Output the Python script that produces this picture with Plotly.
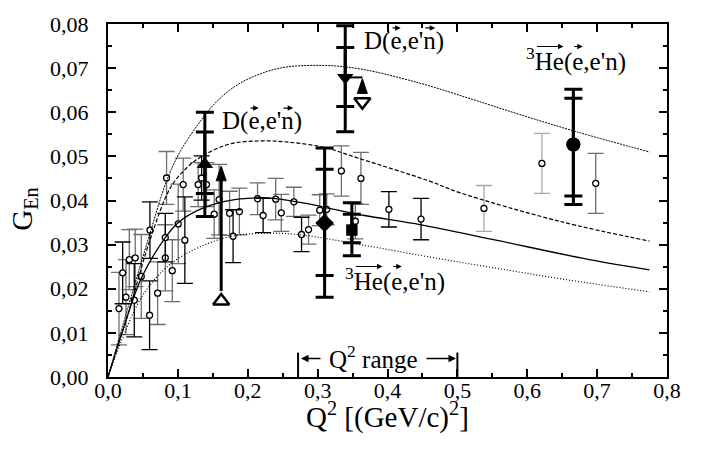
import plotly.graph_objects as go

# ---------------- data ----------------
# model curves
q_top = [0, 0.03, 0.06, 0.084, 0.103, 0.13, 0.15, 0.174, 0.2, 0.246, 0.31, 0.365, 0.446, 0.52, 0.589, 0.67, 0.775]
g_top = [0, 0.0165, 0.0325, 0.0445, 0.051, 0.0575, 0.0615, 0.0650, 0.0675, 0.0700, 0.0706, 0.0697, 0.0666, 0.0630, 0.0595, 0.0556, 0.0510]

q_dash = [0, 0.03, 0.06, 0.089, 0.11, 0.131, 0.174, 0.22, 0.26, 0.31, 0.36, 0.46, 0.503, 0.646, 0.775]
g_dash = [0, 0.0150, 0.0310, 0.0428, 0.0470, 0.0497, 0.0528, 0.0535, 0.0532, 0.0520, 0.0495, 0.0444, 0.0418, 0.0353, 0.0308]

q_solid = [0, 0.02, 0.048, 0.082, 0.1, 0.129, 0.167, 0.2, 0.229, 0.277, 0.324, 0.367, 0.448, 0.55, 0.689, 0.775]
g_solid = [0, 0.0100, 0.0225, 0.0316, 0.0349, 0.0378, 0.0398, 0.0405, 0.0406, 0.0395, 0.0380, 0.0366, 0.0345, 0.0312, 0.0266, 0.0243]

q_dot = [0, 0.02, 0.05, 0.0886, 0.129, 0.18, 0.23, 0.277, 0.365, 0.46, 0.55, 0.65, 0.775]
g_dot = [0, 0.0085, 0.0186, 0.0255, 0.0293, 0.0320, 0.0326, 0.0322, 0.0299, 0.0272, 0.0248, 0.0222, 0.0193]

# world data (small open circles)
sm_q = [0.0157, 0.021, 0.0257, 0.0305, 0.0376, 0.039, 0.0476, 0.0595, 0.060, 0.071,
        0.082, 0.082, 0.0838, 0.092, 0.1005, 0.1076, 0.110, 0.129, 0.134, 0.141,
        0.152, 0.159, 0.174, 0.179, 0.188, 0.214, 0.222, 0.240, 0.248, 0.266,
        0.277, 0.287, 0.303, 0.313, 0.334, 0.354, 0.362, 0.402, 0.448, 0.538,
        0.621, 0.698]
sm_g = [0.0155, 0.0236, 0.0181, 0.0266, 0.0174, 0.027, 0.0228, 0.014, 0.0333, 0.019,
        0.027, 0.0316, 0.0451, 0.0241, 0.0347, 0.0436, 0.031, 0.0436, 0.0451, 0.0436,
        0.0369, 0.0402, 0.0371, 0.0319, 0.0375, 0.0404, 0.0366, 0.0403, 0.0372, 0.0397,
        0.0323, 0.0334, 0.0378, 0.038, 0.0467, 0.0353, 0.045, 0.038, 0.0358, 0.0382,
        0.0484, 0.0439]
sm_err = [0.0082, 0.007, 0.0085, 0.0068, 0.0083, 0.0065, 0.0095, 0.0078, 0.0064, 0.0071,
          0.0075, 0.0055, 0.006, 0.007, 0.009, 0.006, 0.0098, 0.005, 0.005, 0.005,
          0.0055, 0.008, 0.005, 0.006, 0.0053, 0.0036, 0.0039, 0.0047, 0.0042, 0.0033,
          0.0039, 0.0033, 0.0035, 0.0035, 0.0057, 0.004, 0.0059, 0.004, 0.0047, 0.0052,
          0.0068, 0.0068]
sm_tone = ['gray', 'black', 'gray', 'gray', 'black', 'gray', 'gray', 'black', 'black', 'gray',
           'gray', 'black', 'gray', 'gray', 'gray', 'gray', 'black', 'gray', 'black', 'gray',
           'gray', 'gray', 'gray', 'black', 'gray', 'gray', 'black', 'gray', 'gray', 'gray',
           'black', 'gray', 'gray', 'gray', 'gray', 'gray', 'gray', 'black', 'black', 'light',
           'light', 'gray']

# new measurements (filled symbols, thick bars)
big_q = [0.1386, 0.3395, 0.310, 0.349, 0.666]
big_g = [0.0482, 0.0679, 0.0349, 0.0333, 0.0527]
big_out_hi = [0.0118, 0.0117, 0.0170, 0.0062, 0.0125]
big_out_lo = [0.0118, 0.0123, 0.0168, 0.0058, 0.0136]
big_in_hi = [0.0073, 0.0068, 0.0122, 0.0036, 0.0105]
big_in_lo = [0.0066, 0.0066, 0.0119, 0.0029, 0.0117]
big_symbol = ['triangle-up', 'triangle-down', 'diamond', 'square', 'circle']

# uncorrected values (open triangles) and shift arrows
open_q = [0.162, 0.364]
open_g = [0.0172, 0.0624]
open_symbol = ['triangle-up-open', 'triangle-down-open']
shift_tail_g = [0.0195, 0.0643]
shift_head_g = [0.0478, 0.0676]

q2_range = [0.272, 0.5]

# ---------------- geometry helpers ----------------
W, H = 707, 452
ML, MR, MT, MB = 108, 40, 16, 75
XR = [0, 0.8]
YR = [0, 0.08]
PW = W - ML - MR
PH = H - MT - MB
sx = (XR[1] - XR[0]) / PW
sy = (YR[1] - YR[0]) / PH


def dx(px):
    return XR[0] + (px - ML) * sx


def dy(py):
    return YR[0] + (H - MB - py) * sy


FONT = 'Liberation Serif, Times New Roman, Times, serif'
tone_col = {'black': '#000000', 'gray': '#6e6e6e', 'light': '#a8a8a8'}

fig = go.Figure()

# small points, grouped by tone
for tone in ['light', 'gray', 'black']:
    idx = [i for i, t in enumerate(sm_tone) if t == tone]
    fig.add_trace(go.Scatter(
        x=[sm_q[i] for i in idx], y=[sm_g[i] for i in idx], mode='markers',
        error_y=dict(type='data', array=[sm_err[i] for i in idx], visible=True,
                     color=tone_col[tone], thickness=1.3, width=8),
        marker=dict(symbol='circle', size=6, color='white',
                    line=dict(color='black', width=1.3)),
        showlegend=False, hoverinfo='skip'))

# curves
fig.add_trace(go.Scatter(x=q_top, y=g_top, mode='lines', line_shape='spline',
                         line=dict(color='black', width=1, dash='2px,1px'), showlegend=False))
fig.add_trace(go.Scatter(x=q_dash, y=g_dash, mode='lines', line_shape='spline',
                         line=dict(color='black', width=1.2, dash='4px,2px'), showlegend=False))
fig.add_trace(go.Scatter(x=q_solid, y=g_solid, mode='lines', line_shape='spline',
                         line=dict(color='black', width=1.3), showlegend=False))
fig.add_trace(go.Scatter(x=q_dot, y=g_dot, mode='lines', line_shape='spline',
                         line=dict(color='black', width=1.2, dash='1px,2px'), showlegend=False))

# big symbols: outer bars, inner caps
for i in range(len(big_q)):
    for hi, lo in [(big_out_hi, big_out_lo), (big_in_hi, big_in_lo)]:
        fig.add_trace(go.Scatter(
            x=[big_q[i]], y=[big_g[i]], mode='markers',
            error_y=dict(type='data', symmetric=False, array=[hi[i]], arrayminus=[lo[i]],
                         color='black', thickness=3, width=9, visible=True),
            marker=dict(symbol=big_symbol[i], size=14 if big_symbol[i] != 'square' else 11,
                        color='black', line=dict(width=0)),
            showlegend=False))

# open triangles
for i in range(len(open_q)):
    fig.add_trace(go.Scatter(
        x=[open_q[i]], y=[open_g[i]], mode='markers',
        marker=dict(symbol=open_symbol[i], size=14, color='black', line=dict(width=2.5)),
        showlegend=False))

shapes = []
head_w, head_h = 10, 15
for i in range(len(open_q)):
    xq = open_q[i]
    fig.add_trace(go.Scatter(
        x=[xq, xq], y=[shift_tail_g[i], shift_head_g[i] - head_h * sy * 0.8],
        mode='lines', line=dict(color='black', width=3), showlegend=False))
    tipx, tipy = xq, shift_head_g[i]
    path = 'M{},{} L{},{} L{},{} Z'.format(
        tipx, tipy,
        tipx - head_w / 2 * sx, tipy - head_h * sy,
        tipx + head_w / 2 * sx, tipy - head_h * sy)
    shapes.append(dict(type='path', path=path, xref='x', yref='y',
                       fillcolor='black', line=dict(color='black', width=1)))
# connector from shifted deuteron point to its arrow
fig.add_trace(go.Scatter(x=[big_q[1], open_q[1]], y=[big_g[1], big_g[1]],
                         mode='lines', line=dict(color='black', width=2), showlegend=False))

# Q^2 range markers
for xq in q2_range:
    fig.add_trace(go.Scatter(x=[xq, xq], y=[0, dy(352)], mode='lines',
                             line=dict(color='black', width=2), showlegend=False))

annotations = []


def label(text, cx, cy, size, total_em, arrows):
    annotations.append(dict(text=text, x=dx(cx), y=dy(cy), xref='x', yref='y',
                            xanchor='center', yanchor='middle', showarrow=False,
                            font=dict(family=FONT, size=size, color='black')))
    left = cx - total_em * size / 2
    ay_px = cy - 0.52 * size
    for a, b in arrows:
        annotations.append(dict(text='', x=dx(left + b * size), y=dy(ay_px),
                                xref='x', yref='y', ax=-(b - a) * size, ay=0,
                                showarrow=True, arrowhead=2, arrowsize=1,
                                arrowwidth=1.1, arrowcolor='black', standoff=0,
                                startstandoff=0))


D_txt = "D(e,e'n)"
He_txt = "<sup>3</sup>He(e,e'n)"
label(D_txt, 262, 115, 25, 3.206, [(1.085, 1.47), (2.40, 2.85)])
label(D_txt, 404, 33, 25, 3.206, [(1.085, 1.47), (2.40, 2.85)])
label(He_txt, 576, 52, 25, 4.0, [(0.38, 1.5), (1.87, 2.27)])
label(He_txt, 395, 277, 25, 4.0, [(0.38, 1.5), (1.87, 2.27)])

# Q^2 range text and arrows
annotations.append(dict(text='Q<sup>2</sup> range', x=dx(373), y=dy(357), xref='x', yref='y',
                        xanchor='center', yanchor='middle', showarrow=False,
                        font=dict(family=FONT, size=25, color='black')))
for head_px, tail_off in [(301, 21), (456, -31)]:
    annotations.append(dict(text='', x=dx(head_px), y=dy(358), xref='x', yref='y',
                            ax=tail_off, ay=0, showarrow=True, arrowhead=2, arrowsize=1,
                            arrowwidth=1.5, arrowcolor='black', standoff=0, startstandoff=0))

# axis titles
annotations.append(dict(text='G<sub>En</sub>', x=(24 - ML) / PW, y=(H - MB - 205) / PH,
                        xref='paper', yref='paper', textangle=-90, showarrow=False,
                        xanchor='center', yanchor='middle',
                        font=dict(family=FONT, size=29, color='black')))
annotations.append(dict(text='Q<sup>2</sup> [(GeV/c)<sup>2</sup>]', x=(387 - ML) / PW,
                        y=-(416 - (H - MB)) / PH, xref='paper', yref='paper',
                        showarrow=False, xanchor='center', yanchor='middle',
                        font=dict(family=FONT, size=29, color='black')))

axis_common = dict(showline=True, linewidth=2, linecolor='black', mirror='allticks',
                   ticks='inside', ticklen=8, tickwidth=1.5, tickcolor='black',
                   showgrid=False, zeroline=False,
                   tickfont=dict(family=FONT, size=22, color='black'))

fig.update_layout(
    width=W, height=H, margin=dict(l=ML, r=MR, t=MT, b=MB),
    paper_bgcolor='white', plot_bgcolor='white', separators=',.',
    showlegend=False, shapes=shapes, annotations=annotations,
    font=dict(family=FONT),
    xaxis=dict(range=XR, tick0=0, dtick=0.1, tickformat='.1f', ticklabelstandoff=-7,
               minor=dict(dtick=0.05, ticks='inside', ticklen=4, tickwidth=1.5, tickcolor='black'),
               **axis_common),
    yaxis=dict(range=YR, tick0=0, dtick=0.01, tickformat='.2f', ticklabelstandoff=13,
               minor=dict(dtick=0.005, ticks='inside', ticklen=4, tickwidth=1.5, tickcolor='black'),
               **axis_common),
)

fig.write_html('out.html')
